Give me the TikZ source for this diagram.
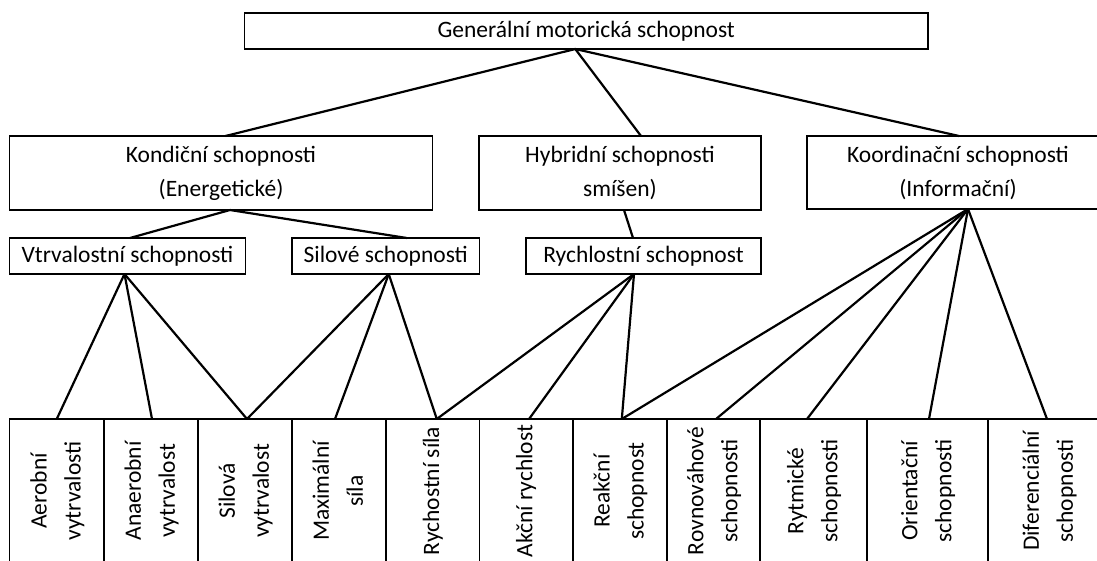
\documentclass[tikz,border=0pt]{standalone}
\usepackage{fontspec}
\setmainfont{Carlito}
\begin{document}
\begin{tikzpicture}[x=1pt,y=-1pt,
  box/.style={draw, line width=1.8pt, inner sep=0pt, outer sep=0pt, anchor=north west, align=center, font=\fontsize{23.5}{34}\selectfont},
  cell/.style={box, minimum height=144pt},
  link/.style={line width=2.2pt}]
\useasboundingbox[fill=white] (0,0) rectangle (1097,560);
% top
\node[box, minimum width=683.5pt, minimum height=35.7pt] (top) at (244.5,13.3) {Generální motorická schopnost};
% second row
\node[box, minimum width=423pt, minimum height=74pt] (kond) at (9.5,136) {Kondiční schopnosti\\(Energetické)};
\node[box, minimum width=282pt, minimum height=74pt] (hyb) at (479,136) {Hybridní schopnosti\\smíšen)};
\node[box, minimum width=302pt, minimum height=73pt] (koord) at (807,136) {Koordinační schopnosti\\(Informační)};
% third row
\node[box, minimum width=236pt, minimum height=36pt] (vtr) at (9.5,238) {Vtrvalostní schopnosti};
\node[box, minimum width=187.5pt, minimum height=36pt] (sil) at (292,238) {Silové schopnosti};
\node[box, minimum width=235pt, minimum height=36pt] (rych) at (526,238) {Rychlostní schopnost};
% bottom row
\node[cell, minimum width=94.5pt] (a1) at (9.5,419) {\rotatebox{90}{\begin{tabular}{@{}c@{}}Aerobní\\vytrvalosti\end{tabular}}};
\node[cell, minimum width=94pt] (a2) at (104,419) {\rotatebox{90}{\begin{tabular}{@{}c@{}}Anaerobní\\vytrvalost\end{tabular}}};
\node[cell, minimum width=94pt] (a3) at (198,419) {\rotatebox{90}{\begin{tabular}{@{}c@{}}Silová\\vytrvalost\end{tabular}}};
\node[cell, minimum width=94pt] (a4) at (292,419) {\rotatebox{90}{\begin{tabular}{@{}c@{}}Maximální\\síla\end{tabular}}};
\node[cell, minimum width=93.5pt] (a5) at (386,419) {\rotatebox{90}{Rychostní síla}};
\node[cell, minimum width=93.1pt] (a6) at (479.5,419) {\rotatebox{90}{Akční rychlost}};
\node[cell, minimum width=94.4pt] (a7) at (572.6,419) {\rotatebox{90}{\begin{tabular}{@{}c@{}}Reakční\\schopnost\end{tabular}}};
\node[cell, minimum width=93pt] (a8) at (667,419) {\rotatebox{90}{\begin{tabular}{@{}c@{}}Rovnováhové\\schopnosti\end{tabular}}};
\node[cell, minimum width=107pt] (a9) at (760,419) {\rotatebox{90}{\begin{tabular}{@{}c@{}}Rytmické\\schopnosti\end{tabular}}};
\node[cell, minimum width=121pt] (a10) at (867,419) {\rotatebox{90}{\begin{tabular}{@{}c@{}}Orientační\\schopnosti\end{tabular}}};
\node[cell, minimum width=122pt] (a11) at (988,419) {\rotatebox{90}{\begin{tabular}{@{}c@{}}Diferenciální\\schopnosti\end{tabular}}};
% connectors: top level
\draw[link] ([xshift=-11pt]top.south) -- ([xshift=4.5pt]kond.north);
\draw[link] ([xshift=-11pt]top.south) -- ([xshift=21pt]hyb.north);
\draw[link] ([xshift=-11pt]top.south) -- ([xshift=1pt]koord.north);
% second to third
\draw[link] ([xshift=9pt]kond.south) -- ([xshift=2.5pt]vtr.north);
\draw[link] ([xshift=9pt]kond.south) -- ([xshift=21pt]sil.north);
\draw[link] ([xshift=4pt]hyb.south) -- ([xshift=-10.5pt]rych.north);
% third to bottom
\draw[link] ([xshift=-3pt]vtr.south) -- (a1.north);
\draw[link] ([xshift=-3pt]vtr.south) -- ([xshift=1pt]a2.north);
\draw[link] ([xshift=-3pt]vtr.south) -- ([xshift=2pt]a3.north);
\draw[link] ([xshift=3pt]sil.south) -- ([xshift=2pt]a3.north);
\draw[link] ([xshift=3pt]sil.south) -- ([xshift=-4pt]a4.north);
\draw[link] ([xshift=3pt]sil.south) -- ([xshift=4pt]a5.north);
\draw[link] ([xshift=-9.5pt]rych.south) -- ([xshift=4pt]a5.north);
\draw[link] ([xshift=-9.5pt]rych.south) -- ([xshift=3pt]a6.north);
\draw[link] ([xshift=-9.5pt]rych.south) -- ([xshift=2pt]a7.north);
\draw[link] ([xshift=10pt]koord.south) -- ([xshift=2pt]a7.north);
\draw[link] ([xshift=10pt]koord.south) -- ([xshift=2.5pt]a8.north);
\draw[link] ([xshift=10pt]koord.south) -- ([xshift=-6.5pt]a9.north);
\draw[link] ([xshift=10pt]koord.south) -- ([xshift=1.5pt]a10.north);
\draw[link] ([xshift=10pt]koord.south) -- ([xshift=-2pt]a11.north);
\end{tikzpicture}
\end{document}
